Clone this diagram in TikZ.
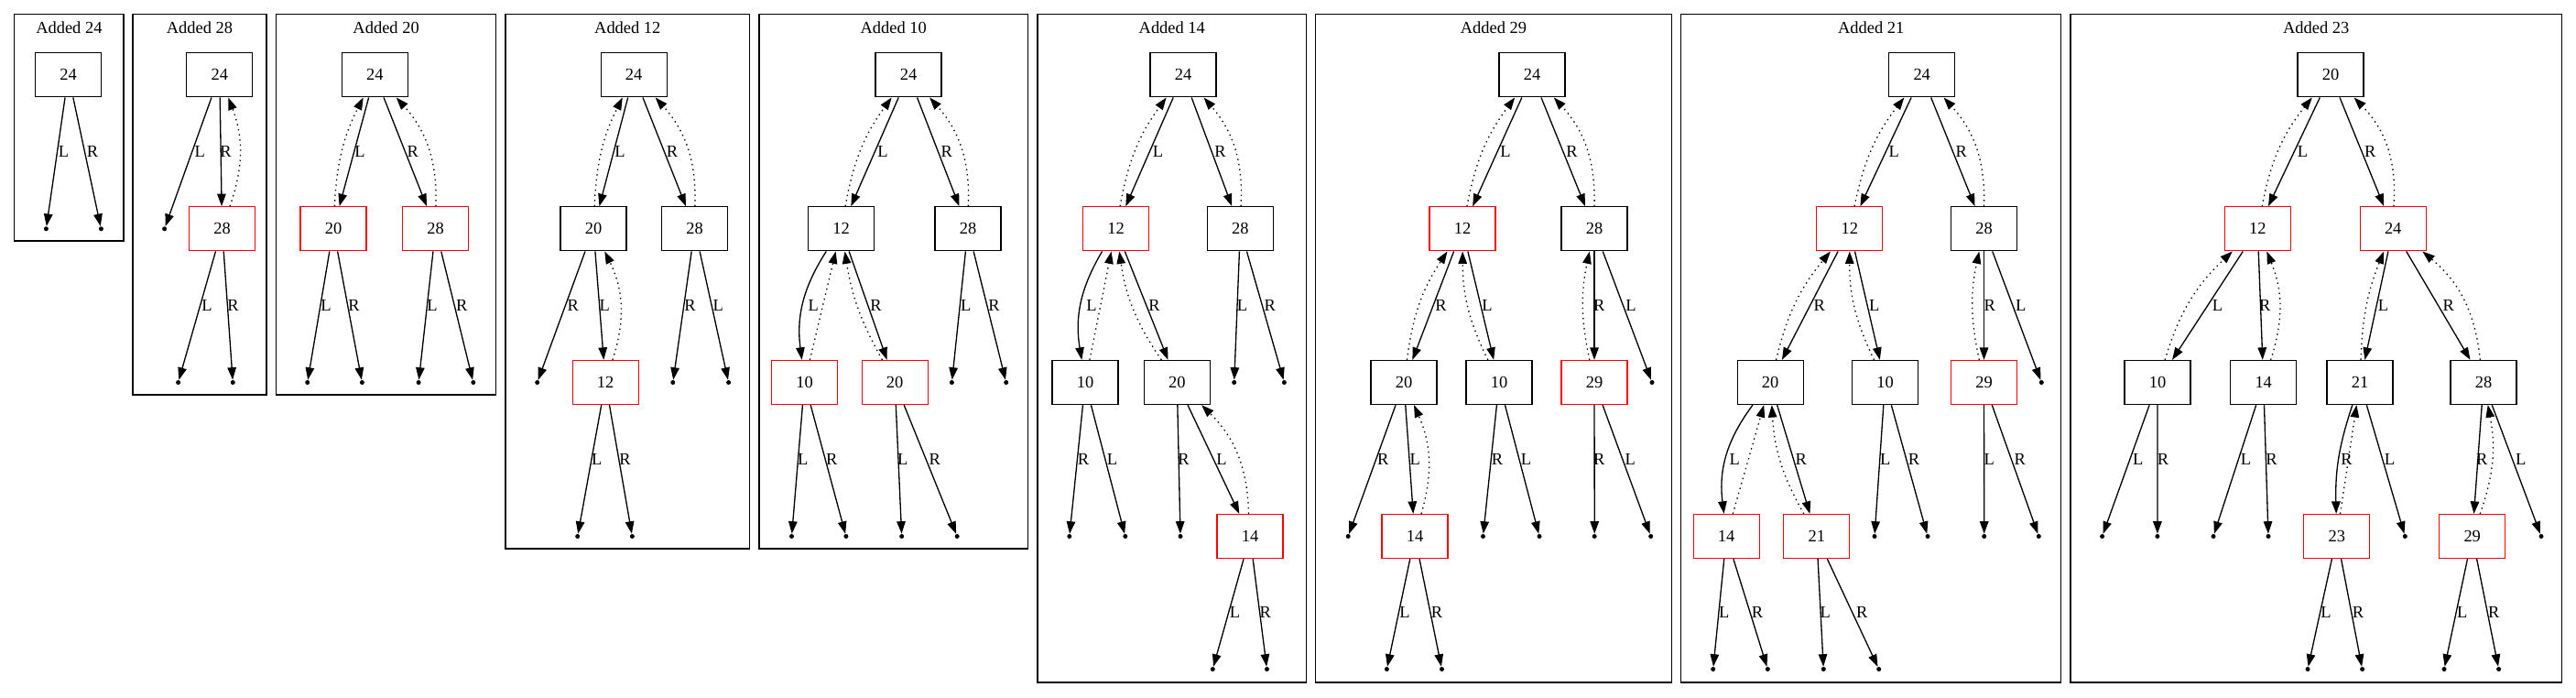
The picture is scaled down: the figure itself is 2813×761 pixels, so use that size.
\documentclass[tikz,border=0pt]{standalone}
\usepackage{fontspec}
\setmainfont{Liberation Serif}
\usetikzlibrary{arrows.meta}

\begin{document}
\begin{tikzpicture}[x=0.02cm, y=0.02cm, font=\fontsize{10.5}{12}\selectfont,
  key/.style={draw, line width=0.75pt, minimum width=1.44cm, minimum height=0.96cm, inner sep=0pt},
  redkey/.style={key, draw=red},
  nil/.style={circle, fill, inner sep=0pt, minimum size=0.1cm},
  child/.style={line width=0.75pt, -{Triangle[length=0.27cm,width=0.19cm]}},
  parent/.style={child, dash pattern=on 0.8pt off 2.4pt},
  tag/.style={inner sep=0pt},
  title/.style={inner sep=0pt},
  panel/.style={line width=0.75pt}]
  \useasboundingbox (0,0) rectangle (2813,-761);

  \draw[panel] (15.7,-15.7) rectangle (135,-263);
  \node[title] (ta) at (75.4,-30.5) {Added 24};
  \node[key] (a24) at (74.6,-81.8) {24};
  \node[nil] (a24L) at (50.4,-249.8) {};
  \node[nil] (a24R) at (110.4,-249.8) {};
  \draw[child] (a24) -- (a24L) node[tag, at={(69.6,-165.7)}] {L};
  \draw[child] (a24) -- (a24R) node[tag, at={(101,-165.7)}] {R};

  \draw[panel] (145,-15.7) rectangle (291,-431);
  \node[title] (tb) at (218,-30.5) {Added 28};
  \node[key] (b24) at (239.8,-81.8) {24};
  \node[redkey] (b28) at (242.5,-249.8) {28};
  \node[nil] (b24L) at (179.6,-249.8) {};
  \node[nil] (b28L) at (194.6,-417.5) {};
  \node[nil] (b28R) at (254.3,-417.5) {};
  \draw[child] (b24) -- (b24L) node[tag, at={(218.2,-165.7)}] {L};
  \draw[child] (b24) -- (b28) node[tag, at={(246.4,-165.7)}] {R};
  \draw[child] (b28) -- (b28L) node[tag, at={(226,-333.3)}] {L};
  \draw[child] (b28) -- (b28R) node[tag, at={(254.6,-333.3)}] {R};
  \draw[parent] (b28) to[bend right=20] (b24);

  \draw[panel] (301.4,-15.7) rectangle (541.8,-431);
  \node[title] (tc) at (421.6,-30.5) {Added 20};
  \node[key] (c24) at (409.3,-81.8) {24};
  \node[redkey] (c20) at (364,-249.8) {20};
  \node[redkey] (c28) at (475.7,-249.8) {28};
  \node[nil] (c20L) at (335.7,-417.5) {};
  \node[nil] (c20R) at (395.4,-417.5) {};
  \node[nil] (c28L) at (457.1,-417.5) {};
  \node[nil] (c28R) at (516.8,-417.5) {};
  \draw[child] (c24) -- (c20) node[tag, at={(392.9,-165.7)}] {L};
  \draw[child] (c24) -- (c28) node[tag, at={(450.7,-165.7)}] {R};
  \draw[child] (c20) -- (c20L) node[tag, at={(356,-333.3)}] {L};
  \draw[child] (c20) -- (c20R) node[tag, at={(386.4,-333.3)}] {R};
  \draw[child] (c28) -- (c28L) node[tag, at={(472,-333.3)}] {L};
  \draw[child] (c28) -- (c28R) node[tag, at={(504.3,-333.3)}] {R};
  \draw[parent] (c20) to[bend left=12] (c24);
  \draw[parent] (c28) to[bend right=22] (c24);

  \draw[panel] (551.9,-15.7) rectangle (818.6,-599);
  \node[title] (td) at (685.3,-30.5) {Added 12};
  \node[key] (d24) at (692.2,-81.8) {24};
  \node[key] (d20) at (648,-249.8) {20};
  \node[key] (d28) at (758.7,-249.8) {28};
  \node[redkey] (d12) at (661.2,-417.5) {12};
  \node[nil] (d20R) at (586.7,-417.5) {};
  \node[nil] (d28R) at (734.8,-417.5) {};
  \node[nil] (d28L) at (795.6,-417.5) {};
  \node[nil] (d12L) at (630.7,-585.5) {};
  \node[nil] (d12R) at (690.4,-585.5) {};
  \draw[child] (d24) -- (d20) node[tag, at={(677,-165.7)}] {L};
  \draw[child] (d24) -- (d28) node[tag, at={(734,-165.7)}] {R};
  \draw[child] (d20) -- (d20R) node[tag, at={(625.7,-333.3)}] {R};
  \draw[child] (d20) -- (d12) node[tag, at={(660.2,-333.3)}] {L};
  \draw[child] (d28) -- (d28R) node[tag, at={(753.5,-333.3)}] {R};
  \draw[child] (d28) -- (d28L) node[tag, at={(784.2,-333.3)}] {L};
  \draw[child] (d12) -- (d12L) node[tag, at={(651.7,-501.3)}] {L};
  \draw[child] (d12) -- (d12R) node[tag, at={(682.4,-501.3)}] {R};
  \draw[parent] (d20) to[bend left=12] (d24);
  \draw[parent] (d28) to[bend right=22] (d24);
  \draw[parent] (d12) to[bend right=22] (d20);

  \draw[panel] (828.9,-15.7) rectangle (1122.5,-599);
  \node[title] (te) at (975.7,-30.5) {Added 10};
  \node[key] (e24) at (992,-81.8) {24};
  \node[key] (e12) at (918.5,-249.8) {12};
  \node[key] (e28) at (1057,-249.8) {28};
  \node[redkey] (e10) at (878.5,-417.5) {10};
  \node[redkey] (e20) at (977.2,-417.5) {20};
  \node[nil] (e28L) at (1039.4,-417.5) {};
  \node[nil] (e28R) at (1098.7,-417.5) {};
  \node[nil] (e10L) at (864.5,-585.5) {};
  \node[nil] (e10R) at (923.9,-585.5) {};
  \node[nil] (e20L) at (984.7,-585.5) {};
  \node[nil] (e20R) at (1045.2,-585.5) {};
  \draw[child] (e24) -- (e12) node[tag, at={(964,-165.7)}] {L};
  \draw[child] (e24) -- (e28) node[tag, at={(1033.7,-165.7)}] {R};
  \draw[child] (e12) to[bend right=20] (e10) node[tag, at={(888.3,-333.3)}] {L};
  \draw[child] (e12) -- (e20) node[tag, at={(956.4,-333.3)}] {R};
  \draw[child] (e28) -- (e28L) node[tag, at={(1054.7,-333.3)}] {L};
  \draw[child] (e28) -- (e28R) node[tag, at={(1085.4,-333.3)}] {R};
  \draw[child] (e10) -- (e10L) node[tag, at={(876.8,-501.3)}] {L};
  \draw[child] (e10) -- (e10R) node[tag, at={(908.2,-501.3)}] {R};
  \draw[child] (e20) -- (e20L) node[tag, at={(985.8,-501.3)}] {L};
  \draw[child] (e20) -- (e20R) node[tag, at={(1020.7,-501.3)}] {R};
  \draw[parent] (e12) to[bend left=13] (e24);
  \draw[parent] (e28) to[bend right=22] (e24);
  \draw[parent] (e10) -- (e12);
  \draw[parent] (e20) to[bend left=10] (e12);

  \draw[panel] (1132.9,-15.7) rectangle (1426.7,-745);
  \node[title] (tf) at (1279.8,-30.5) {Added 14};
  \node[key] (f24) at (1292,-81.8) {24};
  \node[redkey] (f12) at (1218.5,-249.8) {12};
  \node[key] (f28) at (1354.4,-249.8) {28};
  \node[key] (f10) at (1185,-417.5) {10};
  \node[key] (f20) at (1285.3,-417.5) {20};
  \node[redkey] (f14) at (1365,-585.5) {14};
  \node[nil] (f28L) at (1347.7,-417.5) {};
  \node[nil] (f28R) at (1402.4,-417.5) {};
  \node[nil] (f10R) at (1167.8,-585.5) {};
  \node[nil] (f10L) at (1228.8,-585.5) {};
  \node[nil] (f20R) at (1289,-585.5) {};
  \node[nil] (f14L) at (1324.3,-730.5) {};
  \node[nil] (f14R) at (1383.5,-730.5) {};
  \draw[child] (f24) -- (f12) node[tag, at={(1264.6,-165.5)}] {L};
  \draw[child] (f24) -- (f28) node[tag, at={(1332.6,-165.5)}] {R};
  \draw[child] (f12) to[bend right=20] (f10) node[tag, at={(1192,-333)}] {L};
  \draw[child] (f12) -- (f20) node[tag, at={(1260.5,-333)}] {R};
  \draw[child] (f28) -- (f28L) node[tag, at={(1356.5,-333)}] {L};
  \draw[child] (f28) -- (f28R) node[tag, at={(1386.8,-333)}] {R};
  \draw[child] (f10) -- (f10R) node[tag, at={(1182.9,-501.5)}] {R};
  \draw[child] (f10) -- (f10L) node[tag, at={(1214.6,-501.5)}] {L};
  \draw[child] (f20) -- (f20R) node[tag, at={(1292.6,-501.5)}] {R};
  \draw[child] (f20) -- (f14) node[tag, at={(1334,-501.5)}] {L};
  \draw[child] (f14) -- (f14L) node[tag, at={(1348.6,-668)}] {L};
  \draw[child] (f14) -- (f14R) node[tag, at={(1381.7,-668)}] {R};
  \draw[parent] (f12) to[bend left=13] (f24);
  \draw[parent] (f28) to[bend right=22] (f24);
  \draw[parent] (f10) -- (f12);
  \draw[parent] (f20) to[bend left=13] (f12);
  \draw[parent] (f14) to[bend right=22] (f20);

  \draw[panel] (1436.8,-15.7) rectangle (1825.2,-745);
  \node[title] (tg) at (1631,-30.5) {Added 29};
  \node[key] (g24) at (1673,-81.8) {24};
  \node[redkey] (g12) at (1597,-249.8) {12};
  \node[key] (g28) at (1741,-249.8) {28};
  \node[key] (g20) at (1533,-417.5) {20};
  \node[key] (g10) at (1637,-417.5) {10};
  \node[redkey] (g29) at (1741,-417.5) {29};
  \node[redkey] (g14) at (1545,-585.5) {14};
  \node[nil] (g28L) at (1804,-417.5) {};
  \node[nil] (g20R) at (1472.2,-585.5) {};
  \node[nil] (g10R) at (1619.5,-585.5) {};
  \node[nil] (g10L) at (1681,-585.5) {};
  \node[nil] (g29R) at (1741.2,-585.5) {};
  \node[nil] (g29L) at (1802.7,-585.5) {};
  \node[nil] (g14L) at (1514.4,-730.5) {};
  \node[nil] (g14R) at (1574.5,-730.5) {};
  \draw[child] (g24) -- (g12) node[tag, at={(1643.9,-165.5)}] {L};
  \draw[child] (g24) -- (g28) node[tag, at={(1716.4,-165.5)}] {R};
  \draw[child] (g12) -- (g20) node[tag, at={(1573.6,-333)}] {R};
  \draw[child] (g12) -- (g10) node[tag, at={(1624,-333)}] {L};
  \draw[child] (g28) -- (g29) node[tag, at={(1746.3,-333)}] {R};
  \draw[child] (g28) -- (g28L) node[tag, at={(1781,-333)}] {L};
  \draw[child] (g20) -- (g20R) node[tag, at={(1510.3,-501.5)}] {R};
  \draw[child] (g20) -- (g14) node[tag, at={(1545.2,-501.5)}] {L};
  \draw[child] (g10) -- (g10R) node[tag, at={(1635,-501.5)}] {R};
  \draw[child] (g10) -- (g10L) node[tag, at={(1666.4,-501.5)}] {L};
  \draw[child] (g29) -- (g29R) node[tag, at={(1746.3,-501.5)}] {R};
  \draw[child] (g29) -- (g29L) node[tag, at={(1780.2,-501.5)}] {L};
  \draw[child] (g14) -- (g14L) node[tag, at={(1534,-668)}] {L};
  \draw[child] (g14) -- (g14R) node[tag, at={(1569,-668)}] {R};
  \draw[parent] (g12) to[bend left=13] (g24);
  \draw[parent] (g28) to[bend right=22] (g24);
  \draw[parent] (g20) to[bend left=13] (g12);
  \draw[parent] (g10) to[bend left=13] (g12);
  \draw[parent] (g29) to[bend left=12] (g28);
  \draw[parent] (g14) to[bend right=20] (g20);

  \draw[panel] (1835.7,-15.7) rectangle (2250.7,-745);
  \node[title] (th) at (2043.2,-30.5) {Added 21};
  \node[key] (h24) at (2098.7,-81.8) {24};
  \node[redkey] (h12) at (2019.8,-249.8) {12};
  \node[key] (h28) at (2166.5,-249.8) {28};
  \node[key] (h20) at (1933.2,-417.5) {20};
  \node[key] (h10) at (2058.5,-417.5) {10};
  \node[redkey] (h29) at (2166.5,-417.5) {29};
  \node[redkey] (h14) at (1885.2,-585.5) {14};
  \node[redkey] (h21) at (1983.8,-585.5) {21};
  \node[nil] (h28L) at (2229.3,-417.5) {};
  \node[nil] (h10L) at (2047,-585.5) {};
  \node[nil] (h10R) at (2105,-585.5) {};
  \node[nil] (h29L) at (2166.7,-585.5) {};
  \node[nil] (h29R) at (2226.3,-585.5) {};
  \node[nil] (h14L) at (1870.7,-730.5) {};
  \node[nil] (h14R) at (1930.3,-730.5) {};
  \node[nil] (h21L) at (1991.3,-730.5) {};
  \node[nil] (h21R) at (2051.7,-730.5) {};
  \draw[child] (h24) -- (h12) node[tag, at={(2068.3,-165.5)}] {L};
  \draw[child] (h24) -- (h28) node[tag, at={(2141.7,-165.5)}] {R};
  \draw[child] (h12) -- (h20) node[tag, at={(1986.7,-333)}] {R};
  \draw[child] (h12) -- (h10) node[tag, at={(2046.7,-333)}] {L};
  \draw[child] (h28) -- (h29) node[tag, at={(2172.7,-333)}] {R};
  \draw[child] (h28) -- (h28L) node[tag, at={(2206.7,-333)}] {L};
  \draw[child] (h20) to[bend right=22] (h14) node[tag, at={(1894.3,-501.5)}] {L};
  \draw[child] (h20) -- (h21) node[tag, at={(1966.7,-501.5)}] {R};
  \draw[child] (h10) -- (h10L) node[tag, at={(2058.7,-501.5)}] {L};
  \draw[child] (h10) -- (h10R) node[tag, at={(2090,-501.5)}] {R};
  \draw[child] (h29) -- (h29L) node[tag, at={(2172.3,-501.5)}] {L};
  \draw[child] (h29) -- (h29R) node[tag, at={(2205.7,-501.5)}] {R};
  \draw[child] (h14) -- (h14L) node[tag, at={(1882.7,-668)}] {L};
  \draw[child] (h14) -- (h14R) node[tag, at={(1919,-668)}] {R};
  \draw[child] (h21) -- (h21L) node[tag, at={(1993.3,-668)}] {L};
  \draw[child] (h21) -- (h21R) node[tag, at={(2033.3,-668)}] {R};
  \draw[parent] (h12) to[bend left=13] (h24);
  \draw[parent] (h28) to[bend right=22] (h24);
  \draw[parent] (h20) to[bend left=13] (h12);
  \draw[parent] (h10) to[bend left=13] (h12);
  \draw[parent] (h29) to[bend left=12] (h28);
  \draw[parent] (h14) -- (h20);
  \draw[parent] (h21) to[bend left=13] (h20);

  \draw[panel] (2261.1,-15.7) rectangle (2797.2,-745);
  \node[title] (ti) at (2529.2,-30.5) {Added 23};
  \node[key] (i20) at (2545,-81.8) {20};
  \node[redkey] (i12) at (2465.3,-249.8) {12};
  \node[redkey] (i24) at (2613.2,-249.8) {24};
  \node[key] (i10) at (2356,-417.5) {10};
  \node[key] (i14) at (2471.7,-417.5) {14};
  \node[key] (i21) at (2577.1,-417.5) {21};
  \node[key] (i28) at (2712,-417.5) {28};
  \node[redkey] (i23) at (2551.8,-585.5) {23};
  \node[redkey] (i29) at (2699.7,-585.5) {29};
  \node[nil] (i10L) at (2295.6,-585.5) {};
  \node[nil] (i10R) at (2355.9,-585.5) {};
  \node[nil] (i14L) at (2417,-585.5) {};
  \node[nil] (i14R) at (2477,-585.5) {};
  \node[nil] (i21L) at (2626.3,-585.5) {};
  \node[nil] (i28L) at (2775,-585.5) {};
  \node[nil] (i23L) at (2520,-730.5) {};
  \node[nil] (i23R) at (2579.6,-730.5) {};
  \node[nil] (i29L) at (2669,-730.5) {};
  \node[nil] (i29R) at (2728.6,-730.5) {};
  \draw[child] (i20) -- (i12) node[tag, at={(2514.6,-165.5)}] {L};
  \draw[child] (i20) -- (i24) node[tag, at={(2588.2,-165.5)}] {R};
  \draw[child] (i12) -- (i10) node[tag, at={(2421.6,-333)}] {L};
  \draw[child] (i12) -- (i14) node[tag, at={(2473.3,-333)}] {R};
  \draw[child] (i24) -- (i21) node[tag, at={(2602.6,-333)}] {L};
  \draw[child] (i24) -- (i28) node[tag, at={(2673.7,-333)}] {R};
  \draw[child] (i10) -- (i10L) node[tag, at={(2334.7,-501.5)}] {L};
  \draw[child] (i10) -- (i10R) node[tag, at={(2362,-501.5)}] {R};
  \draw[child] (i14) -- (i14L) node[tag, at={(2452.5,-501.5)}] {L};
  \draw[child] (i14) -- (i14R) node[tag, at={(2480.5,-501.5)}] {R};
  \draw[child] (i21) to[bend right=10] (i23) node[tag, at={(2562.4,-501.5)}] {R};
  \draw[child] (i21) -- (i21L) node[tag, at={(2609.4,-501.5)}] {L};
  \draw[child] (i28) -- (i29) node[tag, at={(2710.3,-501.5)}] {R};
  \draw[child] (i28) -- (i28L) node[tag, at={(2752.7,-501.5)}] {L};
  \draw[child] (i23) -- (i23L) node[tag, at={(2540,-668)}] {L};
  \draw[child] (i23) -- (i23R) node[tag, at={(2575,-668)}] {R};
  \draw[child] (i29) -- (i29L) node[tag, at={(2688.8,-668)}] {L};
  \draw[child] (i29) -- (i29R) node[tag, at={(2723.3,-668)}] {R};
  \draw[parent] (i12) to[bend left=14] (i20);
  \draw[parent] (i24) to[bend right=24] (i20);
  \draw[parent] (i10) to[bend left=15] (i12);
  \draw[parent] (i14) to[bend right=20] (i12);
  \draw[parent] (i21) to[bend left=10] (i24);
  \draw[parent] (i28) to[bend right=22] (i24);
  \draw[parent] (i23) -- (i21);
  \draw[parent] (i29) to[bend right=15] (i28);
\end{tikzpicture}
\end{document}
